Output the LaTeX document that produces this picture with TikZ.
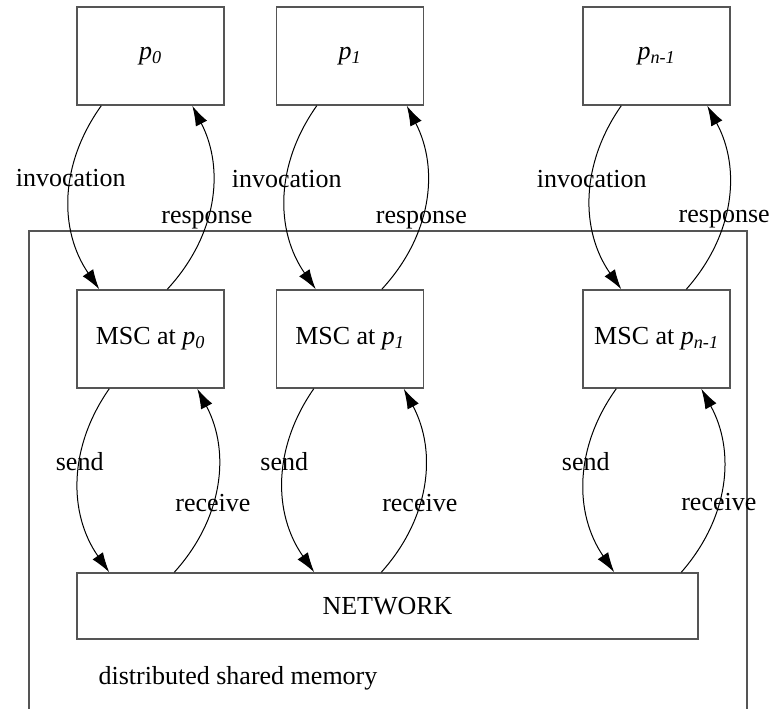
\documentclass[tikz,border=0pt]{standalone}
\usepackage{fontspec}
\setmainfont{Liberation Serif}
\definecolor{boxgray}{RGB}{85, 85, 85}
\usetikzlibrary{arrows.meta, positioning, calc}

\newcommand{\proc}[1]{\textit{p\textsubscript{#1}}}

\begin{document}
\begin{tikzpicture}[x=0.75pt, y=0.75pt,
        font=\fontsize{19.5}{23}\selectfont,
        process/.style={rectangle, draw=boxgray, line width=1.1pt, inner sep=0pt, minimum width=110.25pt, minimum height=73.5pt},
        net/.style={rectangle, draw=boxgray, line width=1.1pt, inner sep=0pt, minimum width=465.75pt, minimum height=49.5pt},
        call/.style={draw=black, line width=0.75pt, -{Latex[length=15pt, width=9.5pt]}, bend right=35},
        lbl/.style={inner sep=0pt}]

        \useasboundingbox (0,0) rectangle (782,-708);

        % shared memory frame
        \draw [boxgray, line width=1.1pt] (29,-231) rectangle (747,-714);
        \node [lbl] (dsm) at (238,-678) {distributed shared memory};

        \node [process] (proc0) at (150.5,-56) {\proc{0}};
        \node [process] (proc1) at (350,-56) {\proc{1}};
        \node [process] (procn) at (656.5,-56) {\proc{n-1}};

        \node [process] (msc0) at (150.5,-339) {MSC at \proc{0}};
        \node [process] (msc1) at (350,-339) {MSC at \proc{1}};
        \node [process] (mscn) at (656.5,-339) {MSC at \proc{n-1}};

        \node [net] (network) at (387.5,-606) {NETWORK};

        % invocation / response
        \path [call] ($(proc0.south west)+(25,0)$) to node [lbl, pos=0.4] {invocation} ($(msc0.north west)+(23,0)$);
        \path [call] ($(msc0.north west)+(91,0)$) to node [lbl, pos=0.4] {response} ($(proc0.south west)+(116,0)$);
        \path [call] ($(proc1.south west)+(41,0)$) to node [lbl, pos=0.4] {invocation} ($(msc1.north west)+(40,0)$);
        \path [call] ($(msc1.north west)+(106,0)$) to node [lbl, pos=0.4] {response} ($(proc1.south west)+(131,0)$);
        \path [call] ($(procn.south west)+(39,0)$) to node [lbl, pos=0.4] {invocation} ($(mscn.north west)+(39,0)$);
        \path [call] ($(mscn.north west)+(104,0)$) to node [lbl, pos=0.4] {response} ($(procn.south west)+(125,0)$);

        % send / receive
        \path [call] ($(msc0.south west)+(33,0)$) to node [lbl, pos=0.4] {send} ($(network.north west)+(33,0)$);
        \path [call] ($(network.north west)+(98,0)$) to node [lbl, pos=0.4] {receive} ($(msc0.south west)+(121,0)$);
        \path [call] ($(msc1.south west)+(38,0)$) to node [lbl, pos=0.4] {send} ($(network.north west)+(238,0)$);
        \path [call] ($(network.north west)+(305,0)$) to node [lbl, pos=0.4] {receive} ($(msc1.south west)+(128,0)$);
        \path [call] ($(mscn.south west)+(34,0)$) to node [lbl, pos=0.4] {send} ($(network.north west)+(538,0)$);
        \path [call] ($(network.north west)+(605,0)$) to node [lbl, pos=0.4] {receive} ($(mscn.south west)+(119,0)$);
    \end{tikzpicture}
\end{document}
